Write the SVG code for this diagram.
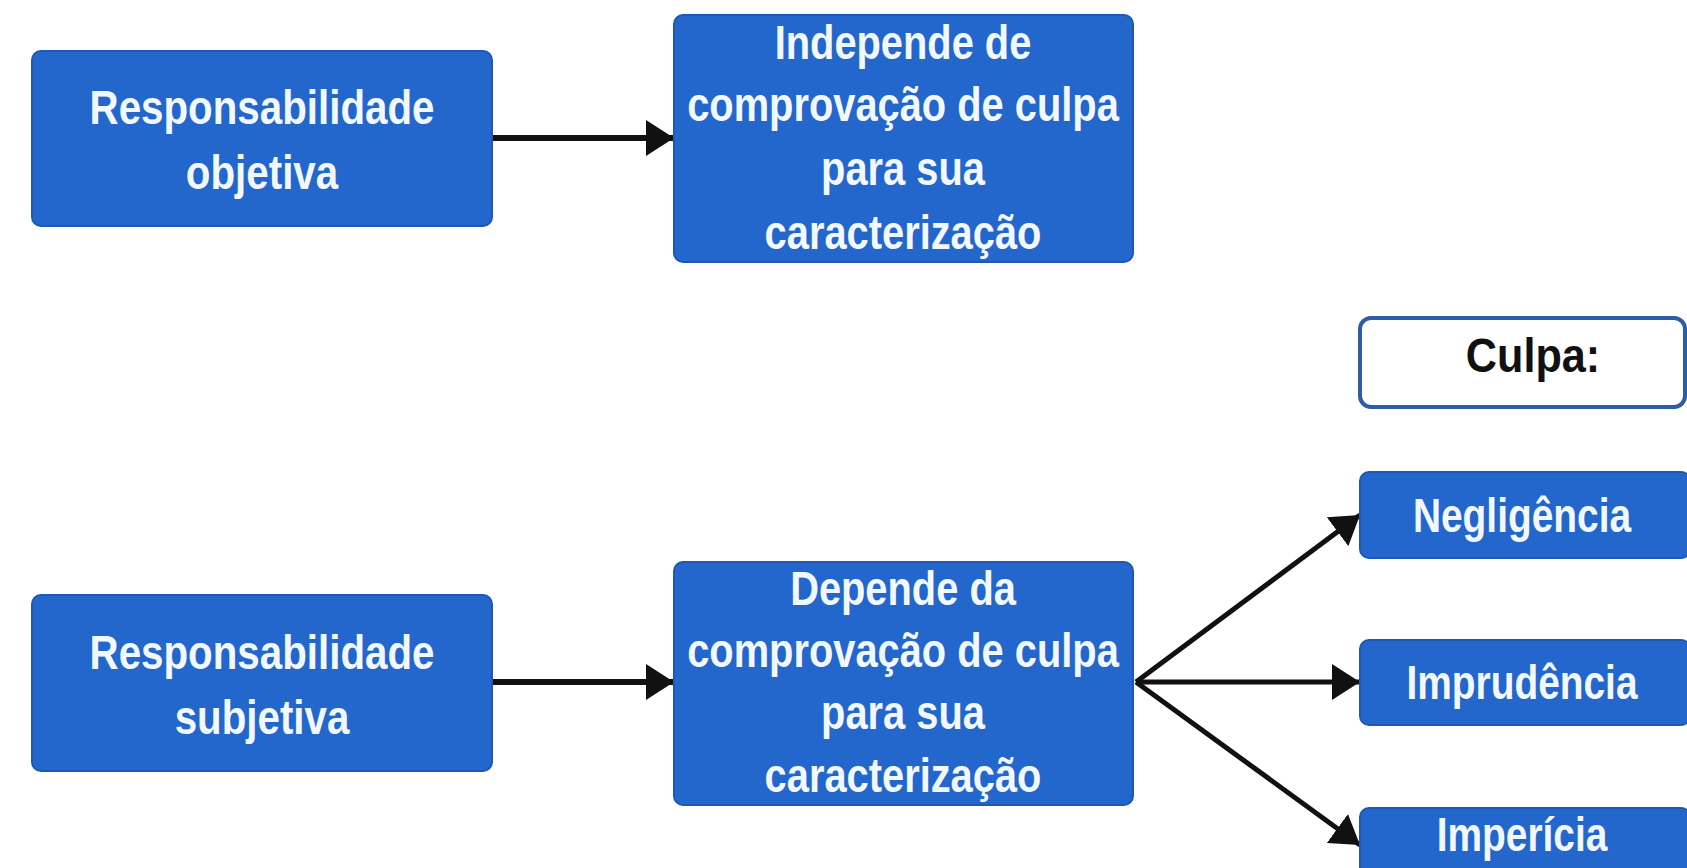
<svg xmlns="http://www.w3.org/2000/svg" width="1687" height="868" viewBox="0 0 1687 868">
<defs>
<style>
.box{fill:#2366cc;stroke:#1d58b4;stroke-width:2}
.wbox{fill:#ffffff;stroke:#2d5ca8;stroke-width:4}
.t{font-family:"Liberation Sans",Arial,sans-serif;font-weight:bold;font-size:48px;fill:#f2f8ff;text-anchor:middle}
.tk{font-family:"Liberation Sans",Arial,sans-serif;font-weight:bold;font-size:48px;fill:#111111;text-anchor:middle}
.c{stroke:#111111;fill:none}
</style>
<marker id="ah" markerUnits="userSpaceOnUse" markerWidth="30" markerHeight="36" refX="28" refY="18" orient="auto">
<path d="M0,0 L28,18 L0,36 Z" fill="#111111"/>
</marker>
</defs>
<rect width="1687" height="868" fill="#ffffff"/>
<g id="connectors">
<line class="c" x1="492" y1="138" x2="674" y2="138" stroke-width="6" marker-end="url(#ah)"/>
<line class="c" x1="492" y1="682" x2="674" y2="682" stroke-width="6" marker-end="url(#ah)"/>
<line class="c" x1="1136" y1="682" x2="1360" y2="515" stroke-width="5" marker-end="url(#ah)"/>
<line class="c" x1="1136" y1="682" x2="1360" y2="682" stroke-width="5" marker-end="url(#ah)"/>
<line class="c" x1="1136" y1="682" x2="1360" y2="845" stroke-width="5" marker-end="url(#ah)"/>
</g>
<g id="n-obj">
<rect class="box" x="32" y="51" width="460" height="175" rx="9"/>
<text class="t" transform="translate(262,124) scale(0.84,1)">Responsabilidade</text>
<text class="t" transform="translate(262,189) scale(0.84,1)">objetiva</text>
</g>
<g id="n-indep">
<rect class="box" x="674" y="15" width="459" height="247" rx="9"/>
<text class="t" transform="translate(903,59) scale(0.83,1)">Independe de</text>
<text class="t" transform="translate(903,121) scale(0.83,1)">comprovação de culpa</text>
<text class="t" transform="translate(903,185) scale(0.83,1)">para sua</text>
<text class="t" transform="translate(903,249) scale(0.83,1)">caracterização</text>
</g>
<g id="n-culpa">
<rect class="wbox" x="1360" y="318" width="325" height="89" rx="11"/>
<text class="tk" transform="translate(1533,372) scale(0.9,1)">Culpa:</text>
</g>
<g id="n-neg">
<rect class="box" x="1360" y="472" width="330" height="86" rx="9"/>
<text class="t" transform="translate(1522,532) scale(0.81,1)">Negligência</text>
</g>
<g id="n-imprud">
<rect class="box" x="1360" y="640" width="330" height="85" rx="9"/>
<text class="t" transform="translate(1522,699) scale(0.81,1)">Imprudência</text>
</g>
<g id="n-imper">
<rect class="box" x="1360" y="808" width="330" height="80" rx="9"/>
<text class="t" transform="translate(1522,851) scale(0.81,1)">Imperícia</text>
</g>
<g id="n-subj">
<rect class="box" x="32" y="595" width="460" height="176" rx="9"/>
<text class="t" transform="translate(262,669) scale(0.84,1)">Responsabilidade</text>
<text class="t" transform="translate(262,734) scale(0.84,1)">subjetiva</text>
</g>
<g id="n-dep">
<rect class="box" x="674" y="562" width="459" height="243" rx="9"/>
<text class="t" transform="translate(903,605) scale(0.83,1)">Depende da</text>
<text class="t" transform="translate(903,667) scale(0.83,1)">comprovação de culpa</text>
<text class="t" transform="translate(903,729) scale(0.83,1)">para sua</text>
<text class="t" transform="translate(903,792) scale(0.83,1)">caracterização</text>
</g>
</svg>
